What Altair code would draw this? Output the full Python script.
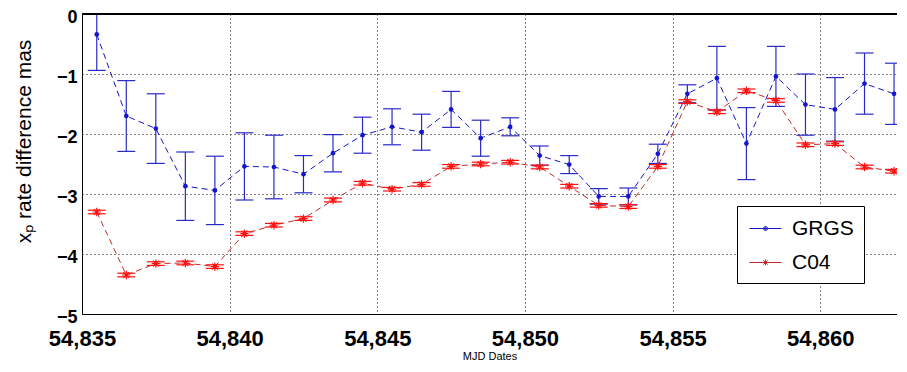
import altair as alt
import pandas as pd

dates = [54835.5, 54836.5, 54837.5, 54838.5, 54839.5, 54840.5, 54841.5, 54842.5,
         54843.5, 54844.5, 54845.5, 54846.5, 54847.5, 54848.5, 54849.5, 54850.5,
         54851.5, 54852.5, 54853.5, 54854.5, 54855.5, 54856.5, 54857.5, 54858.5,
         54859.5, 54860.5, 54861.5, 54862.5]
grgs = [-0.34, -1.70, -1.91, -2.87, -2.94, -2.54, -2.55, -2.67, -2.32, -2.02,
        -1.88, -1.97, -1.59, -2.07, -1.88, -2.36, -2.51, -3.04, -3.04, -2.33,
        -1.33, -1.07, -2.16, -1.04, -1.51, -1.59, -1.16, -1.33]
grgs_err = [0.60, 0.59, 0.58, 0.57, 0.57, 0.56, 0.53, 0.31, 0.31, 0.30,
            0.30, 0.30, 0.30, 0.30, 0.15, 0.16, 0.15, 0.13, 0.14, 0.16,
            0.15, 0.53, 0.60, 0.50, 0.51, 0.53, 0.51, 0.51]
c04 = [-3.30, -4.35, -4.16, -4.15, -4.21, -3.66, -3.52, -3.41, -3.10, -2.82,
       -2.92, -2.84, -2.54, -2.50, -2.47, -2.55, -2.87, -3.19, -3.21, -2.54,
       -1.46, -1.63, -1.28, -1.44, -2.18, -2.16, -2.55, -2.62]
c04_err = [0.03] * 28

x_ticks = [54835, 54840, 54845, 54850, 54855, 54860]
y_ticks = [-5, -4, -3, -2, -1, 0]
series_names = ["GRGS", "C04"]

BLUE = "#1515d0"
BLUE_BAR = "#2a2ac8"
RED = "#ff1010"
RED_LINE = "#c42a2a"

rows = []
for d, v, e in zip(dates, grgs, grgs_err):
    rows.append({"date": d, "value": v, "lo": v - e, "hi": v + e, "series": "GRGS"})
for d, v, e in zip(dates, c04, c04_err):
    rows.append({"date": d, "value": v, "lo": v - e, "hi": v + e, "series": "C04"})
df = pd.DataFrame(rows)

W, H = 815, 300
FONT = "Liberation Sans"

xs = alt.Scale(domain=[54835, 54862.6], nice=False, zero=False)
ys = alt.Scale(domain=[-5, 0], nice=False, zero=False)

x_axis = alt.Axis(values=x_ticks, format=",d", title="MJD Dates", labelFlush=False,
                  labelFontSize=22, labelFontWeight="bold", labelPadding=14,
                  titleFontSize=11, titleFontWeight="normal", titleY=42,
                  titleBaseline="middle")
y_axis = alt.Axis(values=y_ticks, format="d", title="xₚ rate difference mas",
                  labelFontSize=18, labelFontWeight="bold", labelPadding=5,
                  labelOffset=3,
                  titleFontSize=21, titleFontWeight="normal", titleAngle=270,
                  titleX=-58, titleY=127, titleAlign="center", titleBaseline="middle")

# legend symbols: short line with a dot / with an asterisk
grgs_sym = ("M-1.33,0L1.33,0"
            "M-0.17,0A0.17,0.17,0,1,1,0.17,0A0.17,0.17,0,1,1,-0.17,0"
            "M-0.09,0A0.09,0.09,0,1,1,0.09,0A0.09,0.09,0,1,1,-0.09,0")
c04_sym = ("M-1.33,0L1.33,0M-0.25,0L0.25,0M0,-0.25L0,0.25"
           "M-0.18,-0.18L0.18,0.18M-0.18,0.18L0.18,-0.18")
asterisk = "M-1,0L1,0M0,-1L0,1M-0.7,-0.7L0.7,0.7M-0.7,0.7L0.7,-0.7"

legend = alt.Legend(
    title=None, orient="none", legendX=655, legendY=192,
    fillColor="white", strokeColor="black", padding=10,
    labelFont=FONT, labelFontSize=21, labelColor="black",
    symbolSize=576, symbolStrokeWidth=1, symbolOffset=6,
    labelOffset=14, rowPadding=11
)

X = alt.X("date:Q", scale=xs, axis=x_axis)
Y = alt.Y("value:Q", scale=ys, axis=y_axis)
Ylo = alt.Y("lo:Q", scale=ys, axis=y_axis)
Yhi = alt.Y("hi:Q", scale=ys, axis=y_axis)

color_scale = alt.Scale(domain=series_names, range=[BLUE, RED_LINE])


def series_line(name, color):
    return alt.Chart(df).transform_filter(alt.datum.series == name).mark_line(
        strokeDash=[6, 4], strokeWidth=1, color=color).encode(x=X, y=Y)


# invisible layer (clipped away) that only carries the legend
legend_layer = alt.Chart(df).mark_point(
    filled=False, size=576, strokeWidth=1, opacity=1, clip=True).encode(
    x=X, y=alt.value(-200),
    color=alt.Color("series:N", scale=color_scale, legend=legend),
    shape=alt.Shape("series:N", scale=alt.Scale(domain=series_names, range=[grgs_sym, c04_sym]),
                    legend=legend)
)


def bars(name, color):
    base = alt.Chart(df).transform_filter(alt.datum.series == name)
    rule = base.mark_rule(color=color, strokeWidth=1.2, clip=True).encode(
        x=X, y=Ylo, y2="hi:Q")
    cap_lo = base.mark_tick(orient="horizontal", size=18, thickness=1.2, color=color,
                            opacity=1, clip=True).encode(x=X, y=Ylo)
    cap_hi = base.mark_tick(orient="horizontal", size=18, thickness=1.2, color=color,
                            opacity=1, clip=True).encode(x=X, y=Yhi)
    return [rule, cap_lo, cap_hi]


grgs_pts = alt.Chart(df).transform_filter(alt.datum.series == "GRGS").mark_circle(
    size=22, color=BLUE, opacity=1).encode(x=X, y=Y)
c04_pts = alt.Chart(df).transform_filter(alt.datum.series == "C04").mark_point(
    shape=asterisk, size=70, color=RED, strokeWidth=1.2, filled=False, opacity=1).encode(x=X, y=Y)

top_border = alt.Chart(df).mark_rule(color="black", strokeWidth=1).encode(
    x=alt.value(0), x2=alt.value(W), y=alt.value(0))

chart = alt.layer(
    series_line("GRGS", BLUE), series_line("C04", RED_LINE),
    *bars("GRGS", BLUE_BAR), *bars("C04", RED), grgs_pts, c04_pts, top_border,
    legend_layer
).properties(
    width=W, height=H,
    autosize=alt.AutoSizeParams(type="none"),
    padding={"left": 74, "top": 6, "right": 0, "bottom": 50},
    background="white"
).configure_view(stroke=None).configure_axis(
    labelFont=FONT, titleFont=FONT, labelColor="black", titleColor="black",
    domainColor="black", domainWidth=1, ticks=False,
    gridColor="black", gridDash=[1, 3], gridOpacity=1, gridWidth=1
)

chart.save("out.html", embed_options={"renderer": "svg", "actions": False})
